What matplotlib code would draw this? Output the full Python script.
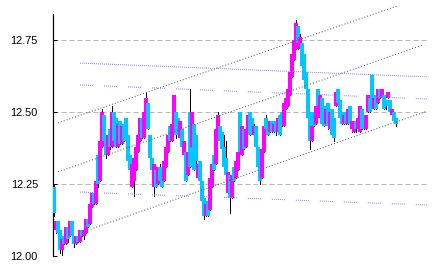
import matplotlib
matplotlib.use("Agg")
import matplotlib.pyplot as plt
import numpy as np

# candle data (one candle every 2 px)
opens = [12.24, 12.09, 12.12, 12.09, 12.02, 12.07, 12.04, 12.10, 12.07, 12.12,
         12.07, 12.04, 12.07, 12.05, 12.09, 12.07, 12.08, 12.13, 12.11, 12.17,
         12.22, 12.18, 12.35, 12.26, 12.38, 12.49, 12.42, 12.35, 12.44, 12.38,
         12.50, 12.48, 12.38, 12.47, 12.39, 12.46, 12.48, 12.42, 12.35, 12.24,
         12.26, 12.30, 12.36, 12.40, 12.48, 12.41, 12.46, 12.53, 12.42, 12.34,
         12.24, 12.30, 12.25, 12.31, 12.30, 12.26, 12.31, 12.36, 12.45, 12.40,
         12.45, 12.50, 12.48, 12.41, 12.44, 12.35, 12.36, 12.28, 12.50, 12.38,
         12.46, 12.42, 12.27, 12.33, 12.26, 12.20, 12.14, 12.19, 12.16, 12.24,
         12.35, 12.32, 12.42, 12.45, 12.43, 12.38, 12.34, 12.22, 12.28, 12.20,
         12.31, 12.27, 12.30, 12.50, 12.35, 12.44, 12.38, 12.43, 12.50, 12.48,
         12.42, 12.45, 12.38, 12.32, 12.27, 12.36, 12.48, 12.47, 12.43, 12.47,
         12.43, 12.47, 12.43, 12.49, 12.50, 12.45, 12.51, 12.52, 12.56, 12.62,
         12.68, 12.72, 12.80, 12.72, 12.74, 12.70, 12.64, 12.58, 12.50, 12.40,
         12.50, 12.46, 12.58, 12.48, 12.55, 12.52, 12.46, 12.53, 12.44, 12.51,
         12.48, 12.52, 12.58, 12.54, 12.50, 12.46, 12.50, 12.46, 12.52, 12.44,
         12.43, 12.47, 12.44, 12.43, 12.51, 12.49, 12.44, 12.50, 12.55, 12.63,
         12.51, 12.56, 12.53, 12.58, 12.55, 12.56, 12.54, 12.55, 12.54, 12.49,
         12.50, 12.48]
closes = [12.15, 12.12, 12.08, 12.02, 12.06, 12.04, 12.10, 12.06, 12.12, 12.07,
          12.04, 12.07, 12.05, 12.09, 12.07, 12.09, 12.13, 12.10, 12.18, 12.22,
          12.18, 12.26, 12.25, 12.40, 12.50, 12.40, 12.35, 12.42, 12.38, 12.50,
          12.40, 12.38, 12.46, 12.39, 12.45, 12.40, 12.42, 12.33, 12.30, 12.32,
          12.34, 12.38, 12.42, 12.48, 12.41, 12.50, 12.55, 12.44, 12.34, 12.30,
          12.32, 12.24, 12.31, 12.26, 12.24, 12.33, 12.38, 12.42, 12.40, 12.46,
          12.56, 12.42, 12.43, 12.47, 12.38, 12.40, 12.26, 12.36, 12.31, 12.50,
          12.30, 12.33, 12.32, 12.26, 12.19, 12.14, 12.18, 12.14, 12.27, 12.32,
          12.30, 12.44, 12.49, 12.40, 12.37, 12.31, 12.28, 12.29, 12.20, 12.28,
          12.26, 12.33, 12.36, 12.36, 12.45, 12.37, 12.44, 12.49, 12.42, 12.43,
          12.45, 12.38, 12.31, 12.26, 12.37, 12.45, 12.44, 12.42, 12.47, 12.43,
          12.46, 12.43, 12.48, 12.42, 12.45, 12.53, 12.55, 12.58, 12.64, 12.70,
          12.75, 12.81, 12.74, 12.76, 12.66, 12.61, 12.58, 12.48, 12.40, 12.45,
          12.45, 12.52, 12.52, 12.56, 12.46, 12.45, 12.51, 12.45, 12.50, 12.42,
          12.41, 12.57, 12.53, 12.48, 12.46, 12.49, 12.46, 12.51, 12.46, 12.47,
          12.46, 12.44, 12.48, 12.52, 12.44, 12.44, 12.49, 12.56, 12.50, 12.55,
          12.55, 12.51, 12.58, 12.55, 12.58, 12.51, 12.52, 12.57, 12.50, 12.51,
          12.47, 12.46]
highs = [12.25, 12.12, 12.12, 12.09, 12.06, 12.07, 12.10, 12.10, 12.12, 12.12,
         12.07, 12.07, 12.07, 12.09, 12.09, 12.09, 12.13, 12.13, 12.18, 12.22,
         12.23, 12.26, 12.35, 12.40, 12.51, 12.49, 12.42, 12.42, 12.44, 12.52,
         12.50, 12.48, 12.46, 12.47, 12.45, 12.46, 12.48, 12.42, 12.35, 12.32,
         12.34, 12.38, 12.42, 12.48, 12.48, 12.50, 12.57, 12.53, 12.42, 12.34,
         12.32, 12.30, 12.31, 12.32, 12.30, 12.33, 12.38, 12.42, 12.45, 12.46,
         12.56, 12.50, 12.48, 12.47, 12.44, 12.40, 12.36, 12.36, 12.58, 12.50,
         12.46, 12.42, 12.32, 12.33, 12.26, 12.20, 12.18, 12.19, 12.27, 12.32,
         12.35, 12.44, 12.50, 12.45, 12.43, 12.42, 12.40, 12.29, 12.28, 12.28,
         12.31, 12.33, 12.36, 12.50, 12.45, 12.44, 12.44, 12.49, 12.50, 12.48,
         12.46, 12.45, 12.38, 12.32, 12.37, 12.45, 12.49, 12.47, 12.47, 12.47,
         12.46, 12.47, 12.48, 12.49, 12.50, 12.53, 12.55, 12.58, 12.64, 12.70,
         12.75, 12.82, 12.80, 12.77, 12.74, 12.70, 12.64, 12.58, 12.50, 12.45,
         12.50, 12.52, 12.58, 12.56, 12.55, 12.52, 12.51, 12.53, 12.50, 12.51,
         12.48, 12.58, 12.58, 12.54, 12.50, 12.49, 12.50, 12.51, 12.52, 12.47,
         12.46, 12.47, 12.48, 12.52, 12.51, 12.49, 12.49, 12.56, 12.55, 12.63,
         12.55, 12.56, 12.58, 12.58, 12.58, 12.56, 12.54, 12.57, 12.54, 12.51,
         12.50, 12.48]
lows = [12.14, 12.08, 12.08, 12.01, 12.00, 12.04, 12.04, 12.05, 12.07, 12.07,
        12.03, 12.04, 12.05, 12.05, 12.07, 12.06, 12.08, 12.10, 12.11, 12.17,
        12.18, 12.18, 12.24, 12.26, 12.38, 12.40, 12.34, 12.35, 12.37, 12.38,
        12.40, 12.38, 12.38, 12.39, 12.39, 12.40, 12.42, 12.33, 12.28, 12.24,
        12.21, 12.30, 12.36, 12.40, 12.41, 12.41, 12.46, 12.44, 12.34, 12.30,
        12.21, 12.24, 12.25, 12.26, 12.24, 12.26, 12.31, 12.36, 12.40, 12.40,
        12.45, 12.41, 12.43, 12.41, 12.38, 12.35, 12.26, 12.28, 12.31, 12.38,
        12.30, 12.32, 12.27, 12.26, 12.19, 12.13, 12.14, 12.14, 12.16, 12.24,
        12.30, 12.32, 12.42, 12.40, 12.37, 12.31, 12.28, 12.22, 12.15, 12.20,
        12.26, 12.27, 12.30, 12.36, 12.35, 12.37, 12.38, 12.43, 12.42, 12.43,
        12.42, 12.38, 12.30, 12.25, 12.27, 12.36, 12.44, 12.42, 12.43, 12.43,
        12.43, 12.42, 12.43, 12.42, 12.45, 12.45, 12.51, 12.52, 12.56, 12.62,
        12.68, 12.72, 12.72, 12.72, 12.66, 12.61, 12.58, 12.47, 12.37, 12.40,
        12.45, 12.46, 12.52, 12.48, 12.46, 12.45, 12.46, 12.44, 12.44, 12.42,
        12.40, 12.52, 12.53, 12.48, 12.46, 12.46, 12.46, 12.46, 12.46, 12.43,
        12.43, 12.43, 12.44, 12.43, 12.44, 12.44, 12.44, 12.50, 12.50, 12.55,
        12.51, 12.51, 12.53, 12.55, 12.55, 12.51, 12.51, 12.55, 12.50, 12.49,
        12.47, 12.45]

# trend channel lines (gray) and level lines (blue): start/end points
channel_x = [[2, 171.5], [2, 184.5], [14, 186.5]]
channel_y = [[12.462, 12.868], [12.292, 12.733], [12.083, 12.503]]
level_x = [13, 186.5]
level_y = [[12.670, 12.622], [12.594, 12.545], [12.222, 12.177]]

y_ticks = [12.00, 12.25, 12.50, 12.75]

fig = plt.figure(figsize=(6, 3.75), dpi=72)
ax = fig.add_axes([53 / 432, 14 / 270, 374 / 432, 256 / 270])

x = np.arange(len(closes))
o = np.array(opens)
c = np.array(closes)
colors = ['#ff00ff' if cc >= oo else '#00c8ff' for oo, cc in zip(o, c)]

ax.vlines(x, lows, highs, color='black', linewidth=1, antialiased=False, zorder=2)
ax.bar(x, np.maximum(np.abs(c - o), 0.004), bottom=np.minimum(o, c), width=1.6,
       color=colors, linewidth=0, antialiased=False, zorder=3)

for xs, ys in zip(channel_x, channel_y):
    ax.plot(xs, ys, color='#555555', linewidth=1, linestyle=(0, (1, 2)),
            antialiased=True, clip_on=False, zorder=4)

dotted_dash = (0, (1, 1, 1, 1, 1, 1, 1, 1, 1, 1, 1, 1, 1, 11))
for k, ys in enumerate(level_y):
    ls = (0, (1, 1)) if k == 0 else dotted_dash
    ax.plot(level_x, ys, color='#8080ff', linewidth=1, linestyle=ls,
            antialiased=True, zorder=4)

ax.set_xlim(-0.5, 186.5)
ax.set_ylim(12.0, 12.0 + 256 / 288)

ax.set_yticks(y_ticks)
ax.set_yticklabels(['%.2f' % v for v in y_ticks], fontfamily='Liberation Sans', fontsize=11)
ax.tick_params(axis='y', direction='in', length=4, width=1, pad=15, colors='black')
ax.set_xticks([])
ax.yaxis.grid(True, color='#b8b8b8', linestyle=(0, (5, 3)), linewidth=1, zorder=0)
ax.set_axisbelow(True)

for s in ['top', 'right', 'bottom']:
    ax.spines[s].set_visible(False)
ax.spines['left'].set_bounds(12.0, 12.84)
ax.spines['left'].set_linewidth(1.2)

fig.savefig('out.png', dpi=72)
